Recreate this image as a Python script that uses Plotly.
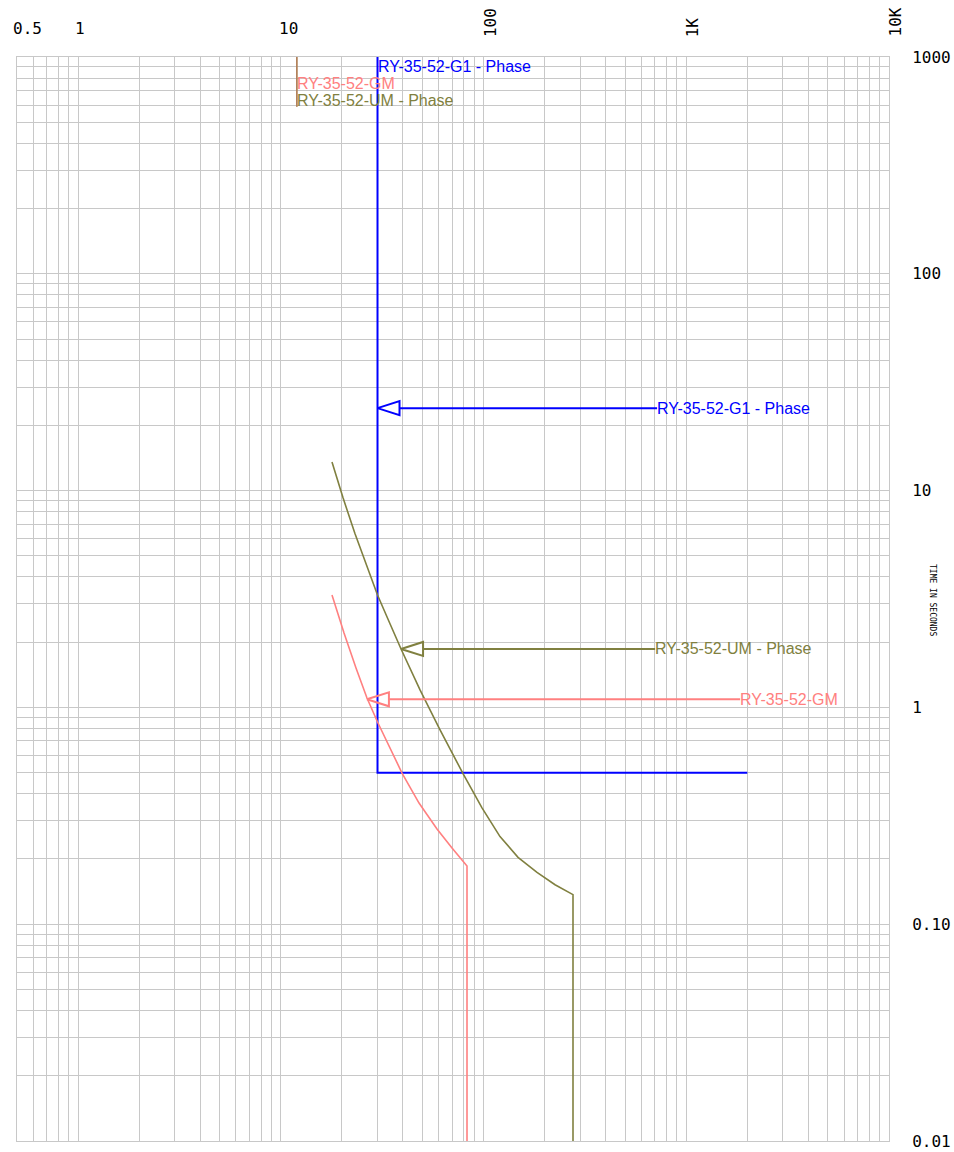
import math
import plotly.graph_objects as go

# ---------------- data ----------------
x_tick_vals = [0.5, 1, 10, 100, 1000, 10000]
x_tick_text = ["0.5", "1", "10", "100", "1K", "10K"]
x_tick_rot = [0, 0, 0, -90, -90, -90]
x_tick_shift = [10, 2, 8, 7, 7, 6]

y_tick_vals = [1000, 100, 10, 1, 0.1, 0.01]
y_tick_text = ["1000", "100", "10", "1", "0.10", "0.01"]

g1_name = "RY-35-52-G1 - Phase"
g1_x = [30, 30, 2000]
g1_y = [1000, 0.5, 0.5]

um_name = "RY-35-52-UM - Phase"
um_x = [17.89, 20.28, 23.24, 26.62, 30.0, 34.57, 39.19, 48.62, 61.03, 79.23,
        98.3, 120.6, 148.0, 183.6, 225.3, 276.3, 276.3]
um_y = [13.55, 9.26, 6.32, 4.45, 3.30, 2.43, 1.86, 1.204, 0.787, 0.495,
        0.344, 0.2535, 0.2035, 0.1732, 0.1521, 0.1369, 0.01]

gm_name = "RY-35-52-GM"
gm_x = [17.89, 20.51, 23.50, 26.62, 30.0, 34.57, 39.63, 48.07, 58.96, 69.93, 82.9, 82.9]
gm_y = [3.30, 2.204, 1.519, 1.105, 0.856, 0.650, 0.498, 0.362, 0.2748, 0.2247, 0.1855, 0.01]

# arrow callouts: tip on curve, label position
arrow_tip_x = {"g1": 30, "um": 39.2, "gm": 26.6}
arrow_y = {"g1": 24, "um": 1.86, "gm": 1.09}
arrow_label_x = {"g1": 718, "um": 702, "gm": 1844}

# top labels with leaders
top_label_x = {"g1": 30, "um": 12, "gm": 12}
top_label_y = {"g1": 900, "gm": 751, "um": 627}
leader_x = 12
leader_y = [1000, 590]

colors = {"g1": "#0000ff", "um": "#808040", "gm": "#ff8080"}
names = {"g1": g1_name, "um": um_name, "gm": gm_name}

# ---------------- layout geometry ----------------
W, H = 954, 1152
ML, MT = 17, 57
PW, PH = 872, 1084
MR, MB = W - ML - PW, H - MT - PH
XR = [math.log10(0.5), 4]
YR = [-2, 3]
PX_DEC_X = PW / (XR[1] - XR[0])
PX_DEC_Y = PH / (YR[1] - YR[0])

def xshift_px(x, px):
    return x * 10 ** (px / PX_DEC_X)

def yshift_px(y, px):
    return y * 10 ** (px / PX_DEC_Y)

# grid values
grid_x = []
for e in range(-1, 4):
    for m in range(1, 10):
        v = m * 10 ** e
        if 0.5 <= v <= 10000:
            grid_x.append(v)
grid_x.append(10000)
grid_y = []
for e in range(-2, 3):
    for m in range(1, 10):
        grid_y.append(m * 10 ** e)
grid_y.append(1000)

y_tt = []
for v in grid_y:
    lab = ""
    for tv, tt in zip(y_tick_vals, y_tick_text):
        if abs(math.log10(v) - math.log10(tv)) < 1e-9:
            lab = tt
    y_tt.append(lab)

fig = go.Figure()

# curves
for key, xs, ys, w in [("g1", g1_x, g1_y, 2), ("um", um_x, um_y, 1.6), ("gm", gm_x, gm_y, 1.6)]:
    fig.add_trace(go.Scatter(x=xs, y=ys, mode="lines",
                             line=dict(color=colors[key], width=w),
                             hoverinfo="skip", showlegend=False))

# leaders for top labels
fig.add_trace(go.Scatter(x=[leader_x, leader_x], y=leader_y, mode="lines",
                         line=dict(color=colors["um"], width=1.6), showlegend=False, hoverinfo="skip"))
fig.add_trace(go.Scatter(x=[leader_x, leader_x], y=leader_y, mode="lines", opacity=0.4,
                         line=dict(color=colors["gm"], width=1.6), showlegend=False, hoverinfo="skip"))

# arrow callouts
for key in ["g1", "um", "gm"]:
    xt = arrow_tip_x[key]
    ya = arrow_y[key]
    xb = xshift_px(xt, 22)
    yt = yshift_px(ya, 7)
    yb = yshift_px(ya, -7)
    fig.add_trace(go.Scatter(
        x=[xt, xb, xb, xt, None, xb, arrow_label_x[key]],
        y=[ya, yt, yb, ya, None, ya, ya],
        mode="lines", line=dict(color=colors[key], width=2),
        showlegend=False, hoverinfo="skip"))

annotations = []
label_font = "Liberation Sans, Arial, sans-serif"
for key in ["g1", "um", "gm"]:
    annotations.append(dict(x=math.log10(arrow_label_x[key]), y=math.log10(arrow_y[key]),
                            xref="x", yref="y", text=names[key], showarrow=False,
                            xanchor="left", yanchor="middle", borderpad=0, xshift=-1,
                            font=dict(family=label_font, size=16, color=colors[key])))
    annotations.append(dict(x=math.log10(top_label_x[key]), y=math.log10(top_label_y[key]),
                            xref="x", yref="y", text=names[key], showarrow=False,
                            xanchor="left", yanchor="middle", borderpad=0, xshift=-1,
                            font=dict(family=label_font, size=16, color=colors[key])))

mono = "DejaVu Sans Mono, Liberation Mono, monospace"
for v, t, rot, sh in zip(x_tick_vals, x_tick_text, x_tick_rot, x_tick_shift):
    gap = 18 if rot == 0 else 19
    annotations.append(dict(x=math.log10(v), y=1 + gap / PH, xref="x", yref="paper",
                            text=t, showarrow=False, textangle=rot, xshift=sh,
                            xanchor="center", yanchor="bottom", borderpad=0,
                            font=dict(family=mono, size=16, color="#000000")))

annotations.append(dict(x=(933 - ML) / PW, y=1 - (600 - MT) / PH,
                        xref="paper", yref="paper",
                        text="TIME IN SECONDS", showarrow=False, textangle=90,
                        xanchor="center", yanchor="middle",
                        font=dict(family=mono, size=8, color="#000000")))

fig.update_layout(
    width=W, height=H,
    margin=dict(l=ML, r=MR, t=MT, b=MB, pad=0, autoexpand=False),
    paper_bgcolor="white", plot_bgcolor="white",
    showlegend=False,
    annotations=annotations,
    xaxis=dict(type="log", range=XR, tickvals=grid_x, showticklabels=False, ticks="",
               showgrid=True, gridcolor="#c8c8c8", gridwidth=1, zeroline=False,
               showline=True, linecolor="#c8c8c8", linewidth=1, mirror=True, side="top"),
    yaxis=dict(type="log", range=YR, tickvals=grid_y, ticktext=y_tt, side="right", ticks="",
               ticklabelstandoff=19,
               tickfont=dict(family=mono, size=16, color="#000000"),
               showgrid=True, gridcolor="#c8c8c8", gridwidth=1, zeroline=False,
               showline=True, linecolor="#c8c8c8", linewidth=1, mirror=True),
)

fig.write_html("out.html", config={"displayModeBar": False},
               post_script="document.body.style.margin='0';document.body.style.overflow='hidden';")
